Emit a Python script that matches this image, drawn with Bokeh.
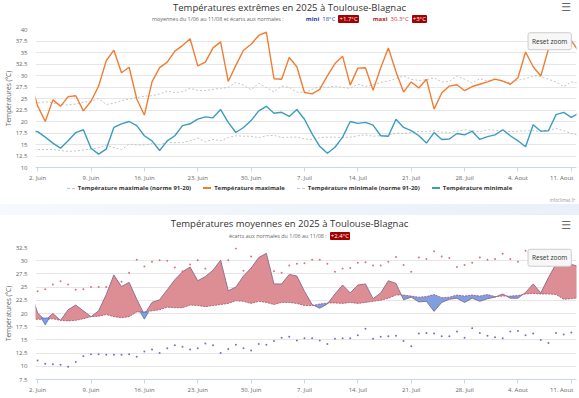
import numpy as np
from bokeh.plotting import figure
from bokeh.models import Range1d, FixedTicker, NumeralTickFormatter, Label, Div
from bokeh.layouts import column
from bokeh.embed import file_html
from bokeh.resources import INLINE

NaN = float("nan")

# day index: 1 = 1 June 2025 ... 73 = 12 August 2025
days = list(range(1, 74))

tmax = [29.0, 23.4, 20.0, 24.7, 23.3, 25.4, 25.6, 22.3, 24.4, 27.7,
        33.2, 35.5, 30.6, 31.8, 24.9, 21.4, 28.6, 31.7, 32.9, 35.3,
        36.5, 38.0, 32.1, 32.9, 36.0, 37.3, 28.7, 32.2, 35.5, 36.8,
        38.7, 39.4, 29.3, 29.2, 33.9, 31.9, 26.3, 26.0, 27.0, 29.9,
        32.6, 34.2, 27.9, 31.6, 31.7, 26.8, 31.7, 36.0, 30.8, 26.4,
        28.6, 27.3, 29.2, 22.7, 26.2, 27.7, 28.0, 26.7, 27.6, 28.1,
        28.6, 29.2, 28.8, 28.1, 29.5, 35.1, 31.9, 29.9, 35.8, 38.2,
        37.2, 37.6, 35.2]

tmin = [17.9, 17.8, 16.6, 15.3, 14.2, 15.8, 17.6, 18.2, 14.2, 12.9,
        14.0, 18.7, 19.5, 20.0, 19.1, 16.9, 15.8, 13.7, 15.8, 16.9,
        19.1, 19.5, 20.5, 21.0, 20.8, 22.6, 19.8, 17.6, 18.7, 20.2,
        22.3, 23.3, 21.8, 22.0, 21.1, 22.6, 20.5, 17.3, 14.6, 13.1,
        14.4, 16.6, 20.0, 19.6, 19.8, 19.2, 16.9, 16.8, 20.5, 18.7,
        18.0, 16.9, 15.3, 17.6, 16.1, 16.2, 17.4, 17.1, 17.9, 16.1,
        16.7, 17.1, 18.2, 16.9, 15.8, 14.5, 19.3, 17.9, 18.0, 21.5,
        22.0, 20.9, 21.8]

tmax_norm = [24.0, 24.0, 24.3, 24.0, 23.7, 23.6, 23.8, 24.2, 24.4, 25.0,
             23.7, 24.0, 24.5, 24.9, 25.2, 25.5, 25.6, 26.0, 26.6, 26.3,
             26.5, 27.2, 26.8, 26.7, 27.0, 27.2, 27.4, 28.5, 27.9, 26.9,
             28.3, 27.4, 26.4, 27.7, 27.4, 26.4, 26.3, 27.0, 27.6, 27.4,
             27.7, 27.4, 27.2, 28.1, 27.6, 28.0, 28.5, 28.8, 29.3, 29.9,
             29.2, 28.9, 29.1, 29.5, 28.6, 28.7, 29.9, 29.2, 28.3, 29.3,
             28.8, 29.3, 28.8, 28.4, 29.0, 29.3, 29.9, 29.8, 29.2, 28.6,
             27.6, 28.6, 28.3]

tmin_norm = [13.9, 13.9, 13.9, 13.9, 13.7, 13.5, 13.6, 13.8, 14.0, 14.3,
             14.9, 14.3, 13.9, 15.1, 14.9, 14.9, 15.2, 14.9, 15.5, 15.4,
             15.4, 15.8, 16.4, 15.6, 16.1, 15.8, 16.5, 16.9, 16.8, 16.8,
             16.5, 16.9, 17.0, 16.5, 16.6, 16.6, 16.2, 16.1, 16.5, 16.6,
             16.6, 16.5, 16.6, 16.9, 17.1, 16.8, 16.9, 17.1, 17.5, 17.4,
             17.6, 17.8, 17.8, 18.0, 17.7, 17.6, 17.9, 18.2, 18.0, 17.8,
             18.2, 18.1, 17.9, 17.8, 17.9, 18.0, 18.0, 17.8, 18.1, 18.5,
             18.0, 17.4, 17.0]

tmean = [24.5, 20.1, 18.7, 20.0, 18.7, 20.7, 21.6, 20.5, 19.4, 20.5,
         23.6, 27.3, 25.1, 25.9, 22.7, 19.8, 22.1, 22.6, 24.5, 26.4,
         27.9, 28.8, 26.2, 27.0, 28.2, 30.1, 24.3, 25.0, 27.1, 28.6,
         30.6, 31.4, 25.6, 25.6, 27.4, 27.1, 24.2, 21.7, 21.0, 21.8,
         23.7, 25.4, 23.9, 25.4, 25.6, 22.8, 23.9, 26.2, 25.7, 22.6,
         23.1, 22.2, 22.3, 20.4, 22.1, 22.7, 22.9, 22.1, 22.9, 22.3,
         22.8, 23.1, 23.7, 22.9, 22.9, 24.0, 25.6, 23.9, 26.8, 29.4,
         29.4, 29.3, 28.9]

tmean_norm = [18.9, 18.9, 18.9, 19.0, 18.7, 18.6, 18.7, 19.0, 19.4, 19.5,
              19.8, 19.4, 19.2, 19.4, 20.3, 20.3, 20.5, 20.7, 21.2, 21.1,
              21.1, 21.6, 21.5, 21.3, 21.5, 21.7, 21.9, 22.4, 22.3, 21.9,
              22.3, 22.1, 21.7, 22.1, 22.1, 21.9, 21.5, 21.5, 21.8, 22.0,
              22.0, 21.9, 22.1, 21.9, 22.1, 22.3, 22.5, 22.9, 23.5, 23.5,
              23.3, 23.1, 23.2, 23.6, 23.0, 23.1, 23.5, 23.3, 23.5, 23.3,
              23.6, 23.2, 23.3, 23.3, 23.4, 23.7, 23.8, 23.7, 23.7, 23.6,
              22.7, 22.8, 23.0]

upper_dots = [NaN, 24.2, 24.6, 25.5, 26.1, 25.5, 24.5, 24.6, 25.0, 25.0,
              25.0, NaN, 26.0, 27.7, 30.2, 28.9, 29.8, 30.1, 30.0, 28.7,
              28.0, 29.3, 30.1, 28.5, NaN, NaN, 30.1, 32.3, 28.1, 30.8,
              NaN, NaN, 28.0, 27.7, 29.1, 29.4, 29.5, 30.2, 30.2, 29.4,
              27.9, 28.5, 28.6, 29.6, 29.7, 29.1, 29.1, 29.8, 30.7, 29.2,
              27.9, 30.6, 30.3, 31.8, 30.8, 30.5, 28.8, 29.2, 29.6, 30.6,
              30.2, 30.3, 31.3, 30.3, 29.8, 31.9, NaN, NaN, NaN, NaN,
              NaN, 29.3, NaN]

lower_dots = [NaN, 11.1, 10.5, 10.4, 10.3, 9.9, 10.8, 11.9, 12.3, 12.3,
              12.2, 12.2, 12.2, 12.3, 11.8, 12.8, 13.2, 12.5, 13.4, 14.0,
              13.7, 13.2, 13.4, 14.3, 14.0, 12.5, 13.3, 14.1, 13.4, 13.0,
              14.2, 14.1, 14.8, 15.4, 15.6, 14.9, 15.3, 15.3, 14.9, 14.2,
              15.2, 15.3, 15.3, 15.9, 17.1, 15.2, 15.6, 15.7, 15.8, 14.8,
              13.8, 16.2, 16.3, 16.2, 15.7, 15.7, 16.6, 15.4, 17.2, 16.3,
              15.8, 15.5, 15.3, 16.6, 16.7, 15.9, 16.2, 15.0, 14.4, 16.3,
              16.0, 16.4, NaN]

below_marker_days = [3, 16]

tick_days = [2, 9, 16, 23, 30, 37, 44, 51, 58, 65, 72]
tick_labels = ["2. Juin", "9. Juin", "16. Juin", "23. Juin", "30. Juin", "7. Juil",
               "14. Juil", "21. Juil", "28. Juil", "4. Aout", "11. Aout\u00a0\u00a0\u00a0\u00a0"]

legend_names = ["Température maximale (norme 91-20)", "Température maximale",
                "Température minimale (norme 91-20)", "Température minimale"]

for arr in (tmax, tmin, tmax_norm, tmin_norm, tmean, tmean_norm, upper_dots, lower_dots):
    assert len(arr) == len(days), len(arr)

FONT = "Open Sans"
W = 579
X0, X1 = 1.72, 72.68
C_MAX, C_MIN, C_NORM = "#f07d34", "#3c9cbf", "#c4c4c4"


def style(p, yticks):
    p.outline_line_color = None
    p.background_fill_color = "white"
    p.border_fill_color = "white"
    p.xgrid.grid_line_color = None
    p.ygrid.grid_line_color = "#e6e6e6"
    p.yaxis.ticker = FixedTicker(ticks=yticks)
    p.yaxis.formatter = NumeralTickFormatter(format="0.[0]")
    p.yaxis.axis_line_color = None
    p.yaxis.major_tick_line_color = None
    p.yaxis.minor_tick_line_color = None
    p.yaxis.major_label_text_font = FONT
    p.yaxis.major_label_text_font_size = "6px"
    p.yaxis.major_label_text_color = "#666666"
    p.yaxis.major_label_standoff = 2
    p.yaxis.axis_label = "Températures (°C)"
    p.yaxis.axis_label_text_font = FONT
    p.yaxis.axis_label_text_font_size = "6.5px"
    p.yaxis.axis_label_text_font_style = "normal"
    p.yaxis.axis_label_text_color = "#666666"
    p.yaxis.axis_label_standoff = 0
    p.xaxis.ticker = FixedTicker(ticks=tick_days)
    p.xaxis.major_label_overrides = {d: t for d, t in zip(tick_days, tick_labels)}
    p.xaxis.axis_line_color = "#ccd6eb"
    p.xaxis.major_tick_line_color = "#ccd6eb"
    p.xaxis.major_tick_out = 4
    p.xaxis.major_tick_in = 0
    p.xaxis.minor_tick_line_color = None
    p.xaxis.major_label_text_font = FONT
    p.xaxis.major_label_text_font_size = "6px"
    p.xaxis.major_label_text_color = "#666666"
    p.xaxis.major_label_standoff = 2


def reset_button(p, y0, y1, frac_y):
    # button near the top-right corner of the plotting area (positions derived from the ranges)
    bx = X1 - 0.0496 * (X1 - X0)
    by = y1 - frac_y * (y1 - y0)
    p.add_layout(Label(x=bx, y=by, text="Reset zoom",
                       text_font=FONT, text_font_size="6.5px", text_color="#333333",
                       text_align="center", text_baseline="middle",
                       background_fill_color="#f7f7f7", border_line_color="#cccccc",
                       border_line_width=1, padding=4, border_radius=2))


def header(title, subtitle_html, height, title_top, sub_top, burger_top):
    html = (
        f'<div style="position:relative;width:{W}px;height:{height}px;font-family:\'{FONT}\',sans-serif;">'
        f'<div style="position:absolute;left:0;width:{W}px;top:{title_top}px;text-align:center;'
        f'font-size:9.5px;line-height:12px;color:#333333;white-space:nowrap;">{title}</div>'
        f'<div style="position:absolute;left:0;width:{W}px;top:{sub_top}px;text-align:center;'
        f'font-size:6px;line-height:8px;color:#666666;white-space:nowrap;">{subtitle_html}</div>'
        f'<div style="position:absolute;right:8px;top:{burger_top}px;font-size:11px;line-height:12px;'
        f'color:#666666;font-family:\'DejaVu Sans\';">&#9776;</div>'
        '</div>')
    return Div(text=html, width=W, height=height, margin=(0, 0, 0, 0))


badge = ('<span style="background:#a30000;color:#ffffff;padding:0 1px;margin-left:3px;'
         'border-radius:1px;">{}</span>')
grey = '<span style="font-size:5.4px;">{}</span>'

sub1 = (grey.format('moyennes du 1/06 au 11/08 et écarts aux normales :') +
        '<b style="color:#1f3b9b;margin-left:22px;">mini</b>'
        '<span style="color:#2a4bb0;margin-left:3px;">18°C</span>'
        + badge.format('+1.7°C') +
        '<b style="color:#b02a2a;margin-left:14px;">maxi</b>'
        '<span style="color:#c03a3a;margin-left:3px;">30.3°C</span>'
        + badge.format('+3°C'))
sub2 = grey.format('écarts aux normales du 1/06 au 11/08 :') + badge.format('+2.4°C')

h1 = header("Températures extrêmes en 2025 à Toulouse-Blagnac", sub1, 26, 2, 15, 2)

# ---------------- top chart ----------------
p1 = figure(width=W, height=158, x_range=Range1d(X0, X1), y_range=Range1d(10, 40),
            output_backend="svg", toolbar_location=None,
            min_border_left=32, min_border_right=3, min_border_top=3, min_border_bottom=17)
style(p1, [10 + 2.5 * i for i in range(13)])
p1.line(days, tmax_norm, line_color=C_NORM, line_width=1, line_dash="2 2")
p1.line(days, tmax, line_color=C_MAX, line_width=1.4)
p1.line(days, tmin_norm, line_color=C_NORM, line_width=1, line_dash="2 2")
p1.line(days, tmin, line_color=C_MIN, line_width=1.4)
reset_button(p1, 10, 40, 0.085)


# legend of the top chart (HTML, below the x axis)
def legend_item(name, color, dashed, first=False):
    border = f"1.5px dashed {color}" if dashed else f"2px solid {color}"
    ml = 0 if first else 12
    return (f'<span style="display:inline-block;width:8px;height:0;border-top:{border};'
            f'vertical-align:middle;margin-left:{ml}px;margin-right:3px;"></span>'
            f'<b style="color:#333333;">{name}</b>')


leg_html = (
    f'<div style="position:relative;width:{W}px;height:19px;font-family:\'{FONT}\',sans-serif;">'
    f'<div style="position:absolute;left:0;width:{W}px;top:-1px;text-align:center;font-size:6px;'
    f'line-height:10px;white-space:nowrap;">'
    + legend_item(legend_names[0], C_NORM, True, True)
    + legend_item(legend_names[1], C_MAX, False)
    + legend_item(legend_names[2], C_NORM, True)
    + legend_item(legend_names[3], C_MIN, False)
    + '</div>'
    f'<div style="position:absolute;right:4px;top:13px;font-size:4.5px;line-height:6px;color:#999999;">'
    'infoclimat.fr</div></div>')
leg = Div(text=leg_html, width=W, height=19, margin=(0, 0, 0, 0))

band = Div(text=f'<div style="width:{W}px;height:11px;background:linear-gradient(90deg,#f6f9fd,#e9f0f9);"></div>',
           width=W, height=11, margin=(0, 0, 0, 0))

h2 = header("Températures moyennes en 2025 à Toulouse-Blagnac", sub2, 31, 4, 18, 6)

# ---------------- bottom chart ----------------
p2 = figure(width=W, height=151, x_range=Range1d(X0, X1), y_range=Range1d(7.5, 32.5),
            output_backend="svg", toolbar_location=None,
            min_border_left=32, min_border_right=3, min_border_top=2, min_border_bottom=15)
style(p2, [7.5 + 2.5 * i for i in range(11)])

# insert crossing points between mean and normal so the two colour zones meet exactly
xs, ms, ns = [], [], []
for i in range(len(days)):
    xs.append(days[i]); ms.append(tmean[i]); ns.append(tmean_norm[i])
    if i < len(days) - 1:
        d0 = tmean[i] - tmean_norm[i]
        d1 = tmean[i + 1] - tmean_norm[i + 1]
        if d0 * d1 < 0:
            t = d0 / (d0 - d1)
            yc = tmean[i] + t * (tmean[i + 1] - tmean[i])
            xs.append(days[i] + t); ms.append(yc); ns.append(yc)
ms = np.array(ms); ns = np.array(ns)
p2.varea(x=xs, y1=ns, y2=np.maximum(ms, ns), fill_color="#dc8e94", fill_alpha=1)
p2.varea(x=xs, y1=np.minimum(ms, ns), y2=ns, fill_color="#7f9fe0", fill_alpha=1)
p2.line(days, tmean_norm, line_color="#a4506c", line_width=0.8, line_dash="2 1")
p2.line(days, tmean, line_color="#8a6a8c", line_width=0.9)
mk_y = [tmean[days.index(d)] for d in below_marker_days]
p2.scatter(below_marker_days, mk_y, marker="inverted_triangle", size=8, fill_color="#7f9fe0",
           line_color="#5575c0", line_width=0.8)
p2.scatter(days, upper_dots, marker="circle", size=2, fill_color="#e0707c", line_color=None)
p2.scatter(days, lower_dots, marker="circle", size=2, fill_color="#7474c4", line_color=None)
reset_button(p2, 7.5, 32.5, 0.078)

layout = column(h1, p1, leg, band, h2, p2, spacing=0)
open("out.html", "w").write(file_html(layout, INLINE))
